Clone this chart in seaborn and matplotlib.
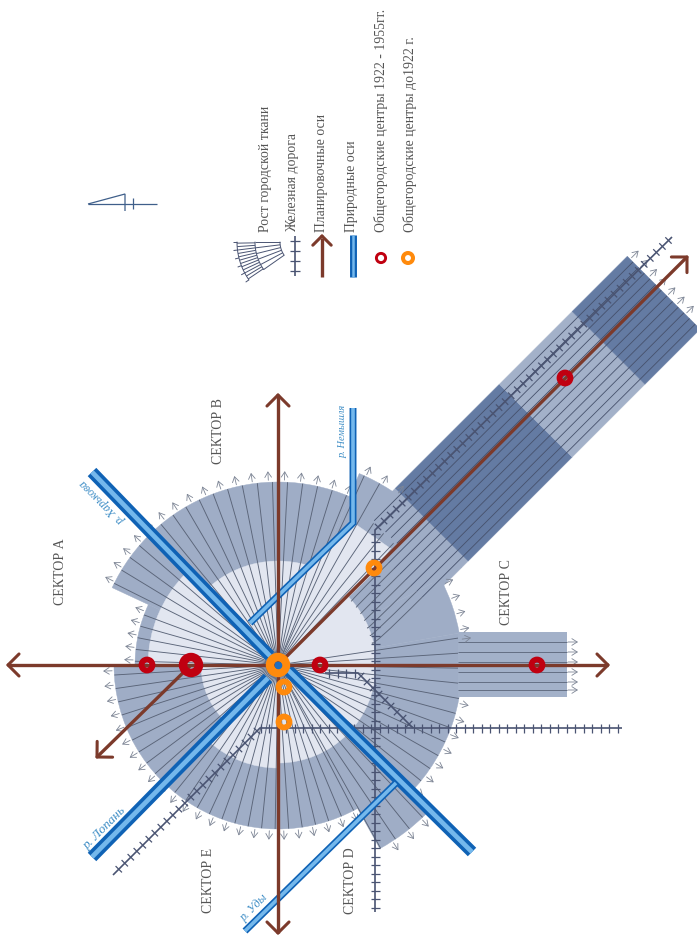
import numpy as np
import seaborn as sns
import matplotlib
matplotlib.use("Agg")
import matplotlib.pyplot as plt
from matplotlib.collections import LineCollection
from matplotlib.patches import Wedge, Polygon, PathPatch
from matplotlib.path import Path

# everything in pixels, y pointing down
cx, cy = 278, 665

# gray ring: start angle, end angle, outer radius
ring_start = [61, 180, 205, 293, 332, 350, 45]
ring_end = [180, 205, 293, 332, 350, 405, 61]
ring_radius = [164, 143, 183, 208, 184, 184, 210]

# light disc
disc_start = [0, 90, 132, 180, 225, 316]
disc_end = [90, 132, 180, 225, 286, 360]
disc_radius = [98, 103, 77, 130, 104, 98]
wedge_theta = [286, 298, 314, 316]
wedge_radius = [104, 161, 162, 130]

# diagonal strip, distances along and across the 45 degree axis
strip_u = [168, 208, 355, 458, 536]
strip_shades = ["#9fadc6", "#647ba3", "#a3b1c9", "#647ba3"]
strip_v_low, strip_v_high = -42, 61
strip_lines_v = [-34, -26, -18, -10, -2, 6, 14, 22, 30, 38, 46, 54]

# strip to the right of the ring
south_x = [458, 567]
south_y = [632, 697]
south_lines_y = [642, 652, 662, 672, 682, 690]

axes_lines = [
    ([8, 608], [665, 665]),
    ([278, 278], [395, 933]),
    ([278, 687], [665, 257]),
    ([191, 97], [665, 757]),
]
rivers_thick = [
    ([92, 270], [472, 656]),
    ([288, 472], [670, 852]),
    ([92, 268], [857, 678]),
]
rivers_thin = [
    ([353, 353, 250], [408, 523, 623]),
    ([245, 396], [931, 783]),
]
rails = [
    ([622, 260, 113], [728, 728, 875]),
    ([375, 375, 672], [912, 530, 237]),
    ([325, 358, 413], [673, 673, 728]),
]

old_x = [278, 284, 284, 374]
old_y = [665, 687, 722, 568]
old_ring = [8, 5.5, 5.5, 5.5]
new_x = [147, 191, 320, 537, 565]
new_y = [665, 665, 665, 665, 378]
new_ring = [5.5, 8, 5.5, 5.5, 5.5]

legend_labels = ["Рост городской ткани", "Железная дорога", "Планировочные оси",
                 "Природные оси", "Общегородские центры 1922 - 1955гг.",
                 "Общегородские центры до1922 г."]
legend_x = [265, 293, 322, 352, 381, 410]

sector_labels = ["СЕКТОР А", "СЕКТОР В", "СЕКТОР С", "СЕКТОР D", "СЕКТОР Е"]
sector_x = [60, 218, 507, 351, 208]
sector_y = [572, 431, 592, 881, 880]

river_labels = ["р. Харькова", "р. Лопань", "р. Уды", "р. Немышля"]
river_x = [103, 105, 254, 343]
river_y = [502, 828, 908, 431]
river_rot = [135, 45, 45, 90]
river_size = [8.5, 9.5, 8.5, 7.5]

brown = "#7c3a2b"
blue_dark = "#0f62b5"
blue_light = "#74b8ec"
rail_col = "#4a5472"
ray_col = "#5a6478"
ring_col = "#9fadc6"
disc_col = "#e2e6f0"
red = "#c00010"
orange = "#ff8a0c"
text_col = "#555555"

sns.set_theme(style="white")
plt.rcParams["font.family"] = ["Liberation Serif", "DejaVu Serif"]

fig = plt.figure(figsize=(6.97, 9.35), dpi=100)
ax = fig.add_axes([0, 0, 1, 1])
ax.set_xlim(0, 697)
ax.set_ylim(935, 0)
ax.axis("off")


def polar(theta, r):
    t = np.radians(theta)
    return cx + r * np.cos(t), cy + r * np.sin(t)


def strip_xy(u, v):
    # u runs along the diagonal to the upper right, v across it
    return cx + (u + v) / np.sqrt(2), cy + (v - u) / np.sqrt(2)


def draw_line(xs, ys, color, lw, cap="butt", z=5):
    sns.lineplot(x=xs, y=ys, color=color, linewidth=lw, estimator=None, sort=False,
                 ax=ax, solid_capstyle=cap, solid_joinstyle="miter", zorder=z, legend=False)


def chevron(tip_x, tip_y, tail_x, tail_y, size=12):
    d = np.array([tail_x - tip_x, tail_y - tip_y], dtype=float)
    d /= np.linalg.norm(d)
    for a in (-45, 45):
        t = np.radians(a)
        rot = np.array([d[0] * np.cos(t) - d[1] * np.sin(t), d[0] * np.sin(t) + d[1] * np.cos(t)])
        draw_line([tip_x, tip_x + rot[0] * size * 1.3], [tip_y, tip_y + rot[1] * size * 1.3], brown, 2.2, "round", 8)


def rail_ticks(xs, ys, step=8.5, half=4.5):
    segs = []
    for i in range(len(xs) - 1):
        p0 = np.array([xs[i], ys[i]], dtype=float)
        p1 = np.array([xs[i + 1], ys[i + 1]], dtype=float)
        length = np.linalg.norm(p1 - p0)
        d = (p1 - p0) / length
        n = np.array([-d[1], d[0]])
        for s in np.arange(step / 2, length, step):
            m = p0 + d * s
            segs.append([m - n * half, m + n * half])
    ax.add_collection(LineCollection(segs, colors=rail_col, linewidths=0.9, zorder=4))


def small_arrow(x0, y0, x1, y1):
    ax.annotate("", xy=(x1, y1), xytext=(x0, y0), zorder=3,
                arrowprops=dict(arrowstyle="->,head_width=0.2,head_length=0.32", lw=0.6,
                                color="#7d8595", shrinkA=0, shrinkB=0))


# ring and disc
for a, b, r in zip(ring_start, ring_end, ring_radius):
    ax.add_patch(Wedge((cx, cy), r, a, b, fc=ring_col, ec=ring_col, lw=0.3, zorder=1))
for a, b, r in zip(disc_start, disc_end, disc_radius):
    ax.add_patch(Wedge((cx, cy), r, a, b, fc=disc_col, ec=disc_col, lw=0.3, zorder=1.2))
wx, wy = polar(np.array(wedge_theta), np.array(wedge_radius))
ax.add_patch(Polygon(np.r_[[[cx, cy]], np.c_[wx, wy]], fc=disc_col, ec=disc_col, lw=0.3, zorder=1.2))

# rays and the small outward arrows
rays = []
for a, b, r in zip(ring_start, ring_end, ring_radius):
    for t in np.arange(a + 1.5, b, 4.75):
        if 316 < t < 350:
            continue
        rays.append([(cx, cy), polar(t, r)])
    for t in np.arange(a + 2, b, 5):
        if 307 < t < 334 or 352 < t < 372:
            continue
        x0, y0 = polar(t, r + 2)
        x1, y1 = polar(t, r + 11)
        small_arrow(x0, y0, x1, y1)
ax.add_collection(LineCollection(rays, colors=ray_col, linewidths=0.65, zorder=1.5))

# strip to the upper right
for i, shade in enumerate(strip_shades):
    corners = [strip_xy(strip_u[i], strip_v_low), strip_xy(strip_u[i + 1], strip_v_low),
               strip_xy(strip_u[i + 1], strip_v_high), strip_xy(strip_u[i], strip_v_high)]
    ax.add_patch(Polygon(corners, fc=shade, ec=shade, lw=0.3, zorder=2))
segs = []
for v in strip_lines_v:
    segs.append([strip_xy(170 if v < 0 else 150, v), strip_xy(strip_u[-1], v)])
ax.add_collection(LineCollection(segs, colors="#46516c", linewidths=0.6, zorder=2.2))
# lines bending from the disc into the strip
for i, v in enumerate(strip_lines_v[5:]):
    t = 319 + i * 4.6
    path = Path([polar(t, 97), strip_xy(100 - i * 4, v), strip_xy(150, v)],
                [Path.MOVETO, Path.CURVE3, Path.CURVE3])
    ax.add_patch(PathPatch(path, fc="none", ec=ray_col, lw=0.65, zorder=2.2))
for v in np.arange(strip_v_low + 4, strip_v_high, 13):
    x0, y0 = strip_xy(strip_u[-1] + 2, v)
    x1, y1 = strip_xy(strip_u[-1] + 12, v)
    small_arrow(x0, y0, x1, y1)

# strip to the right
ax.fill_between(south_x, south_y[0], south_y[1], color="#a3b1c9", lw=0, zorder=2)
ax.add_collection(LineCollection([[(south_x[0], y), (south_x[1], y)] for y in south_lines_y],
                                 colors=ray_col, linewidths=0.6, zorder=2.2))
for y in south_lines_y:
    small_arrow(south_x[1] + 1, y, south_x[1] + 11, y)

for xs, ys in rails:
    draw_line(xs, ys, rail_col, 1.2, z=4)
    rail_ticks(xs, ys)

for xs, ys in rivers_thick:
    draw_line(xs, ys, blue_dark, 8.6, z=6)
    draw_line(xs, ys, blue_light, 3.4, z=6.1)
for xs, ys in rivers_thin:
    draw_line(xs, ys, blue_dark, 5.0, z=6)
    draw_line(xs, ys, blue_light, 2.6, z=6.1)

for xs, ys in axes_lines:
    draw_line(xs, ys, brown, 2.4, z=7)
chevron(8, 665, 278, 665)
chevron(608, 665, 278, 665)
chevron(278, 395, 278, 665)
chevron(278, 933, 278, 665)
chevron(687, 257, 278, 665)
chevron(97, 757, 191, 665)

# centres
for xs, ys, rr, col in [(old_x, old_y, old_ring, orange), (new_x, new_y, new_ring, red)]:
    for x, y, r in zip(xs, ys, rr):
        sns.scatterplot(x=[x], y=[y], s=(2 * r * 0.72) ** 2, facecolor="none", edgecolor=col,
                        linewidth=r * 1.05 * 0.72, ax=ax, zorder=9, legend=False)
ax.scatter([278], [665], s=20, color="#1f6fc0", zorder=10)

# legend symbols
draw_line([295, 295], [236, 276], rail_col, 1.2)
rail_ticks([295, 295], [276, 236], step=10, half=5)
draw_line([322, 322], [277, 238], brown, 2.4)
chevron(322, 236, 322, 277, size=10)
draw_line([352.5, 352.5], [235, 277], blue_dark, 5.0)
draw_line([352.5, 352.5], [235, 277], blue_light, 1.8, z=6)
sns.scatterplot(x=[381], y=[258], s=(2 * 4.6 * 0.72) ** 2, facecolor="none", edgecolor=red, linewidth=2.1, ax=ax, legend=False)
sns.scatterplot(x=[408], y=[258], s=(2 * 5 * 0.72) ** 2, facecolor="none", edgecolor=orange, linewidth=2.9, ax=ax, legend=False)

# little growth icon
icon_c = (303, 242)
icon_segs = []
for t in np.arange(146, 181, 3):
    icon_segs.append([(icon_c[0] + 48 * np.cos(np.radians(t)), icon_c[1] + 48 * np.sin(np.radians(t))),
                      (icon_c[0] + 66 * np.cos(np.radians(t)), icon_c[1] + 66 * np.sin(np.radians(t)))])
for t in np.arange(145, 181, 7):
    icon_segs.append([(icon_c[0] + 23 * np.cos(np.radians(t)), icon_c[1] + 23 * np.sin(np.radians(t))),
                      (icon_c[0] + 48 * np.cos(np.radians(t)), icon_c[1] + 48 * np.sin(np.radians(t)))])
    icon_segs.append([(icon_c[0] + 66 * np.cos(np.radians(t)), icon_c[1] + 66 * np.sin(np.radians(t))),
                      (icon_c[0] + 70 * np.cos(np.radians(t)), icon_c[1] + 70 * np.sin(np.radians(t)))])
ax.add_collection(LineCollection(icon_segs, colors=rail_col, linewidths=0.7))
tt = np.radians(np.linspace(145, 180, 20))
for r in (23, 48, 66):
    ax.plot(icon_c[0] + r * np.cos(tt), icon_c[1] + r * np.sin(tt), color=rail_col, lw=0.7)

for label, x in zip(legend_labels, legend_x):
    ax.text(x, 232, label, rotation=90, ha="center", va="bottom", fontsize=9.9, color=text_col)

for label, x, y in zip(sector_labels, sector_x, sector_y):
    ax.text(x, y, label, rotation=90, ha="center", va="center", fontsize=10, color=text_col)

for label, x, y, rot, size in zip(river_labels, river_x, river_y, river_rot, river_size):
    ax.text(x, y, label, rotation=rot, ha="center", va="center", fontsize=size, style="italic",
            color="#3f8ec6", rotation_mode="anchor")

# north sign
draw_line([88, 157], [204, 204], "#3f5f8a", 0.9)
draw_line([88, 125, 125], [204, 194, 211], "#3f5f8a", 0.9)
draw_line([133, 133], [198, 209], "#3f5f8a", 0.9)

fig.savefig("out.png", dpi=100)
